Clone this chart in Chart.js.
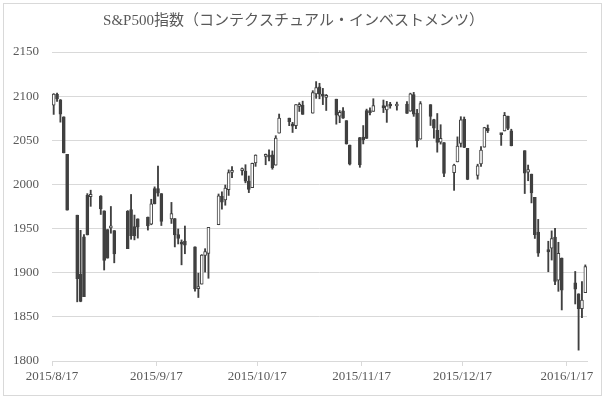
<!DOCTYPE html>
<html><head><meta charset="utf-8">
<script src="https://cdn.jsdelivr.net/npm/chart.js@4/dist/chart.umd.min.js"></script>
<style>html,body{margin:0;padding:0;background:#fff}</style>
</head><body>
<canvas id="c" width="605" height="399"></canvas>
<script>
// ---- data ----
const title = 'S&P500指数（コンテクスチュアル・インベストメンツ）';
const dates = ['2015/8/17','2015/8/18','2015/8/19','2015/8/20','2015/8/21','2015/8/24','2015/8/25','2015/8/26','2015/8/27','2015/8/28','2015/8/31',
'2015/9/1','2015/9/2','2015/9/3','2015/9/4','2015/9/8','2015/9/9','2015/9/10','2015/9/11','2015/9/14','2015/9/15','2015/9/16','2015/9/17','2015/9/18','2015/9/21','2015/9/22','2015/9/23','2015/9/24','2015/9/25','2015/9/28','2015/9/29','2015/9/30',
'2015/10/1','2015/10/2','2015/10/5','2015/10/6','2015/10/7','2015/10/8','2015/10/9','2015/10/12','2015/10/13','2015/10/14','2015/10/15','2015/10/16','2015/10/19','2015/10/20','2015/10/21','2015/10/22','2015/10/23','2015/10/26','2015/10/27','2015/10/28','2015/10/29','2015/10/30',
'2015/11/2','2015/11/3','2015/11/4','2015/11/5','2015/11/6','2015/11/9','2015/11/10','2015/11/11','2015/11/12','2015/11/13','2015/11/16','2015/11/17','2015/11/18','2015/11/19','2015/11/20','2015/11/23','2015/11/24','2015/11/25','2015/11/27','2015/11/30',
'2015/12/1','2015/12/2','2015/12/3','2015/12/4','2015/12/7','2015/12/8','2015/12/9','2015/12/10','2015/12/11','2015/12/14','2015/12/15','2015/12/16','2015/12/17','2015/12/18','2015/12/21','2015/12/22','2015/12/23','2015/12/24','2015/12/28','2015/12/29','2015/12/30','2015/12/31',
'2016/1/4','2016/1/5','2016/1/6','2016/1/7','2016/1/8','2016/1/11','2016/1/12','2016/1/13','2016/1/14','2016/1/15','2016/1/19','2016/1/20','2016/1/21','2016/1/22'];
const opens = [2089.70,2101.99,2095.69,2076.61,2034.08,1965.15,1898.08,1872.75,1942.77,1986.06,1986.73,
1970.09,1916.52,1950.79,1947.76,1927.30,1971.45,1941.59,1951.45,1963.06,1955.10,1978.02,1995.33,1989.66,1960.84,1961.39,1943.24,1934.81,1935.93,1929.18,1881.90,1887.14,
1919.65,1921.77,1954.33,1986.63,1982.34,1994.01,2013.73,2015.65,2015.00,2003.66,1996.47,2024.37,2031.73,2033.13,2033.47,2021.88,2058.19,2075.08,2068.75,2066.48,2088.35,2090.00,
2080.76,2102.63,2110.60,2101.68,2098.60,2096.56,2077.19,2083.41,2072.29,2044.64,2022.08,2053.67,2051.99,2083.70,2082.82,2089.41,2084.42,2089.30,2088.82,2090.95,
2082.93,2101.71,2080.71,2051.24,2090.42,2073.39,2061.17,2047.93,2047.27,2013.37,2025.55,2046.50,2073.76,2040.81,2010.27,2023.15,2042.20,2063.52,2057.77,2060.54,2077.34,2060.59,
2038.20,2013.78,2011.71,1985.32,1945.97,1926.12,1927.83,1940.34,1891.68,1916.68,1888.66,1876.18,1859.33,1877.40];
const highs = [2102.87,2103.47,2096.17,2076.61,2034.08,1965.15,1948.04,1943.09,1989.60,1993.48,1987.36,
1970.09,1948.91,1975.01,1947.76,1970.42,1988.63,1965.29,1961.05,1963.06,1983.19,1997.26,2020.86,1989.66,1979.64,1961.39,1949.52,1937.17,1952.89,1929.18,1899.48,1920.53,
1927.21,1951.36,1989.17,1991.62,1999.31,2016.50,2020.13,2018.66,2022.34,2009.56,2024.15,2033.54,2034.45,2039.12,2037.97,2055.20,2079.74,2075.14,2070.37,2090.35,2092.52,2094.32,
2106.20,2116.48,2114.59,2108.78,2101.91,2096.56,2083.67,2086.94,2072.29,2044.64,2053.22,2066.69,2085.31,2086.74,2097.06,2095.61,2094.12,2093.00,2093.29,2093.81,
2103.37,2104.27,2085.00,2093.84,2090.42,2073.85,2080.33,2067.65,2047.27,2022.92,2053.87,2076.72,2076.37,2040.81,2022.90,2042.74,2064.73,2067.36,2057.77,2081.56,2077.34,2062.54,
2038.20,2021.94,2011.71,1985.32,1960.40,1935.65,1947.38,1950.33,1934.47,1916.68,1901.44,1876.18,1889.85,1908.85];
const lows = [2079.30,2094.14,2070.53,2035.73,1970.89,1867.01,1867.08,1872.75,1942.77,1975.19,1965.98,
1903.07,1916.52,1944.72,1911.21,1927.30,1937.88,1937.19,1939.19,1948.27,1954.30,1977.93,1986.73,1953.45,1955.80,1929.22,1932.57,1908.92,1921.50,1879.21,1871.91,1887.14,
1900.70,1893.70,1954.33,1971.99,1976.44,1987.53,2007.61,2010.55,2001.78,1990.73,1996.47,2020.46,2022.31,2026.61,2017.22,2021.88,2058.19,2066.53,2058.84,2063.11,2082.63,2079.34,
2080.76,2097.51,2096.98,2090.41,2083.74,2068.24,2069.91,2074.85,2045.66,2022.02,2019.39,2045.90,2051.99,2078.76,2082.82,2081.39,2070.29,2086.30,2084.13,2080.41,
2082.93,2077.11,2042.35,2051.24,2066.78,2052.32,2036.53,2045.67,2008.80,1993.26,2025.55,2042.43,2041.66,2005.33,2005.93,2020.49,2042.20,2058.73,2044.20,2060.54,2061.97,2043.62,
1989.68,2004.17,1979.05,1938.83,1918.46,1901.10,1914.35,1886.41,1878.93,1857.83,1864.60,1812.29,1848.98,1877.40];
const closes = [2102.44,2096.92,2079.61,2035.73,1970.89,1893.21,1867.61,1940.51,1987.66,1988.87,1972.18,
1913.85,1948.86,1951.13,1921.22,1969.41,1942.04,1952.29,1961.05,1953.03,1978.09,1995.31,1990.20,1958.03,1966.97,1942.74,1938.76,1932.24,1931.34,1881.77,1884.09,1920.03,
1923.82,1951.36,1987.05,1979.92,1995.83,2013.43,2014.89,2017.46,2003.69,1994.24,2023.86,2033.11,2033.66,2030.77,2018.94,2052.51,2075.15,2071.18,2065.89,2090.35,2089.41,2079.36,
2104.05,2109.79,2102.31,2099.93,2099.20,2078.58,2081.72,2075.00,2045.97,2023.04,2053.19,2050.44,2083.58,2081.24,2089.17,2086.59,2089.14,2088.87,2090.11,2080.41,
2102.63,2079.51,2049.62,2091.69,2077.07,2063.59,2047.62,2052.23,2012.37,2021.94,2043.41,2073.07,2041.89,2005.55,2021.15,2038.97,2064.29,2060.99,2056.50,2078.36,2063.36,2043.94,
2012.66,2016.71,1990.26,1943.09,1922.03,1923.67,1938.68,1890.28,1921.84,1880.33,1881.33,1859.33,1868.99,1906.90];
const xTickLabels = ['2015/8/17','2015/9/17','2015/10/17','2015/11/17','2015/12/17','2016/1/17'];
const yMin = 1800, yMax = 2150, yStep = 50;

// ---- styling ----
const DARK = '#404040', GRID = '#d9d9d9', TEXT = '#595959';
// up-candles whose narrow body renders as solid in the reference
const solidUp = new Set(['2015/8/26','2015/8/27','2015/9/2','2015/9/8','2015/9/10','2015/9/11','2015/9/16','2015/11/16','2015/11/18']);
const FONT = "'Liberation Serif', 'Noto Sans CJK JP', serif";

const dayOf = s => { const [y,m,d] = s.split('/').map(Number); return Date.UTC(y,m-1,d); };
const origin = dayOf(dates[0]);
const dayIdx = s => Math.round((dayOf(s) - origin) / 86400000);
const xs = dates.map(s => dayIdx(s) + 0.5);
const tickVals = xTickLabels.map(dayIdx);
const xMax = dayIdx(dates[dates.length-1]) + 1;

const bodies = dates.map((d,i) => ({x: xs[i], y: [opens[i], closes[i]]}));
const wicks = dates.map((d,i) => ({x: xs[i], y: [lows[i], highs[i]]}));
const bodyFill = dates.map((d,i) => (closes[i] < opens[i] || solidUp.has(d)) ? DARK : '#ffffff');

const frame = {
  id: 'frame',
  beforeDraw(chart) {
    const c = chart.ctx;
    c.save();
    c.fillStyle = '#fff'; c.fillRect(0,0,chart.width,chart.height);
    c.strokeStyle = GRID; c.lineWidth = 1;
    c.strokeRect(3.5, 3.5, chart.width - 7, chart.height - 7);
    c.restore();
  }
};

new Chart(document.getElementById('c'), {
  type: 'bar',
  data: {
    datasets: [
      {data: bodies, backgroundColor: bodyFill, borderColor: DARK, borderWidth: 1, borderSkipped: false,
       barThickness: 3, minBarLength: 2, grouped: false, order: 0},
      {data: wicks, backgroundColor: DARK, borderWidth: 0, barThickness: 1.2, grouped: false, order: 1}
    ]
  },
  options: {
    responsive: false, animation: false,
    layout: {padding: {left: 0, right: 18, top: 0, bottom: 0}},
    plugins: {
      legend: {display: false}, tooltip: {enabled: false},
      title: {display: true, text: title, color: TEXT, font: {family: FONT, size: 15, weight: 'normal'}, padding: {top: 12, bottom: 22}}
    },
    scales: {
      x: {
        type: 'linear', min: 0, max: xMax, offset: false,
        grid: {display: true, drawOnChartArea: false, drawTicks: true, tickLength: 5, color: GRID, offset: false},
        border: {display: true, color: GRID},
        afterBuildTicks: s => { s.ticks = tickVals.map(v => ({value: v})); },
        afterFit: s => { s.height = 38; },
        ticks: {autoSkip: false, maxRotation: 0, padding: 3, color: TEXT, font: {family: FONT, size: 13},
          callback: v => { const k = tickVals.indexOf(v); return k >= 0 ? xTickLabels[k] : ''; }}
      },
      y: {
        min: yMin, max: yMax, beginAtZero: false,
        grid: {color: GRID, drawTicks: false},
        border: {display: false},
        afterFit: s => { s.width = 52; },
        ticks: {stepSize: yStep, padding: 13, color: TEXT, font: {family: FONT, size: 13},
          callback: v => String(v)}
      }
    }
  },
  plugins: [frame]
});
</script>
</body></html>
